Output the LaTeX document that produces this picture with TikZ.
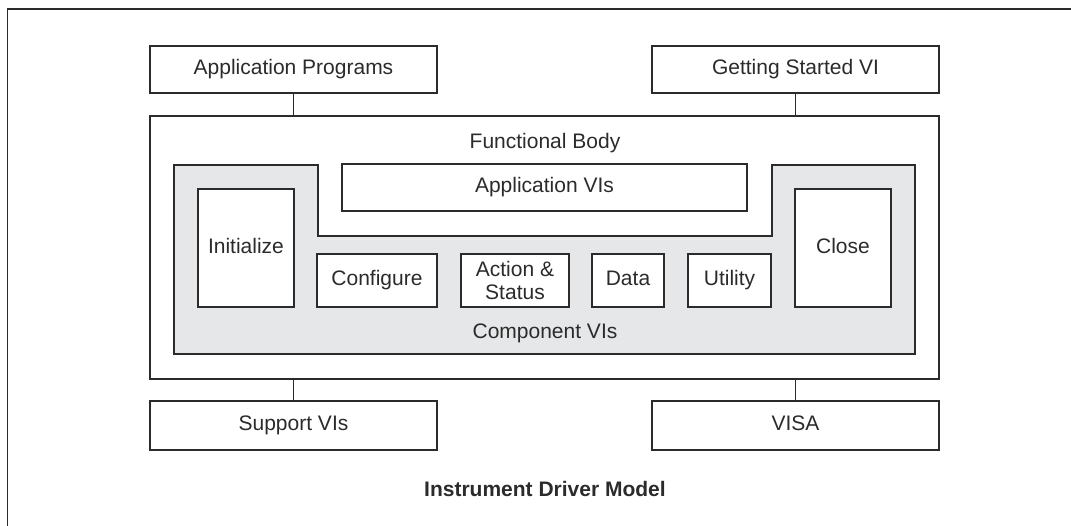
\documentclass[tikz,border=0pt]{standalone}
\usepackage{fontspec}
\setmainfont{Liberation Sans}
\definecolor{ink}{HTML}{2B2B2B}
\definecolor{panel}{HTML}{E6E7E8}
\begin{document}
\begin{tikzpicture}[x=1pt,y=-1pt,
  line width=1.3pt,
  every node/.style={text=ink, font=\fontsize{21}{23}\selectfont},
  box/.style={draw=ink, fill=white, inner sep=0pt, align=center},
  one/.style={text height=15pt, text depth=4pt},
  link/.style={draw=ink, line width=1.3pt},
  plain/.style={inner sep=0pt, text height=15pt, text depth=4pt}]
\useasboundingbox (0,0) rectangle (1071,526);
% outer frame (only top and left edges visible)
\draw[ink, line width=1.5pt] (1071,9) -- (7.5,9) -- (7.5,526);

% top boxes
\node[box, one, minimum width=287pt, minimum height=47pt] (ap) at (293.5,69.5) {Application Programs};
\node[box, one, minimum width=287pt, minimum height=47pt] (gs) at (795.5,69.5) {Getting Started VI};

% functional body
\node[box, minimum width=789pt, minimum height=263pt] (fb) at (544.5,247.5) {};
\node[plain] (fbl) at (545,143) {Functional Body};

% component VIs panel
\path[draw=ink, fill=panel] (174,165) -- (318,165) -- (318,236) -- (772,236) -- (772,165)
  -- (915,165) -- (915,354) -- (174,354) -- cycle;
\node[plain] (cvl) at (545,333) {Component VIs};

\node[box, one, minimum width=405pt, minimum height=47pt] (av) at (544.5,187.5) {Application VIs};
\node[box, one, minimum width=96pt, minimum height=118pt] (init) at (246,248) {Initialize};
\node[box, one, minimum width=120pt, minimum height=53pt] (conf) at (377,280.5) {Configure};
\node[box, minimum width=108pt, minimum height=53pt] (act) at (515,280.5) {Action \&\\Status};
\node[box, one, minimum width=72pt, minimum height=53pt] (data) at (628,280.5) {Data};
\node[box, one, minimum width=83pt, minimum height=53pt] (util) at (729.5,280.5) {Utility};
\node[box, one, minimum width=96pt, minimum height=118pt] (close) at (843,248) {Close};

% bottom boxes
\node[box, one, minimum width=287pt, minimum height=49pt] (sup) at (293.5,425.5) {Support VIs};
\node[box, one, minimum width=287pt, minimum height=49pt] (visa) at (795.5,425.5) {VISA};

% connectors
\draw[link] (ap.south) -- (ap.south |- fb.north);
\draw[link] (gs.south) -- (gs.south |- fb.north);
\draw[link] (sup.north |- fb.south) -- (sup.north);
\draw[link] (visa.north |- fb.south) -- (visa.north);

% caption
\node[plain, font=\bfseries\fontsize{21}{23}\selectfont] (cap) at (545,491) {Instrument Driver Model};
\end{tikzpicture}
\end{document}
